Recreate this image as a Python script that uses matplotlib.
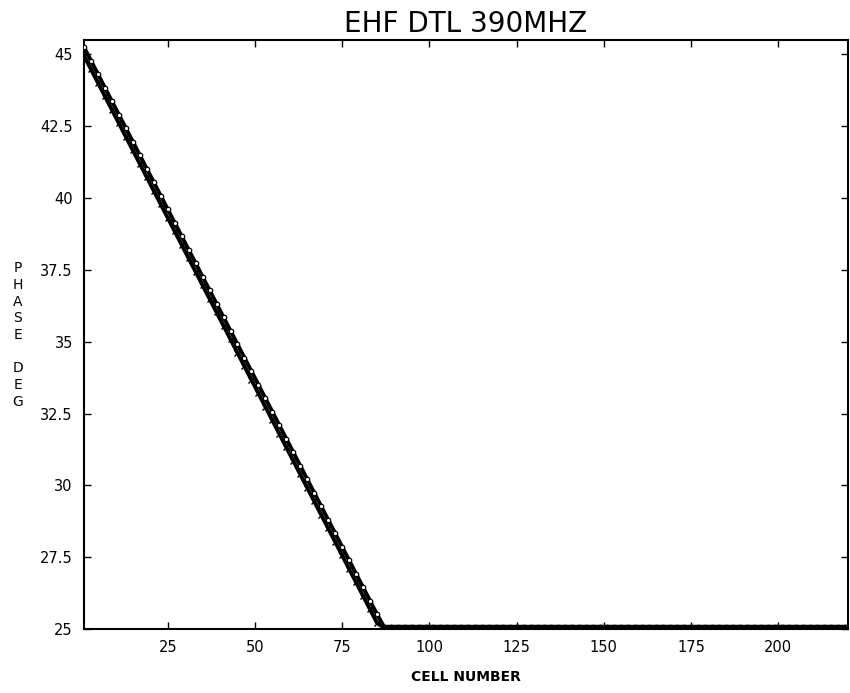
import numpy as np
import matplotlib
matplotlib.use("Agg")
import matplotlib.pyplot as plt

# Cell numbers (every other cell sampled)
cells = np.arange(1, 220, 2)

# Ramp part (cells 1..85)
phase_o_ramp = [45.25, 44.78, 44.31, 43.84, 43.37, 42.90, 42.43, 41.96, 41.49, 41.02,
                40.55, 40.08, 39.61, 39.14, 38.67, 38.20, 37.73, 37.26, 36.79, 36.32,
                35.85, 35.38, 34.91, 34.44, 33.97, 33.50, 33.03, 32.56, 32.09, 31.62,
                31.15, 30.68, 30.21, 29.74, 29.27, 28.80, 28.33, 27.86, 27.39, 26.92,
                26.45, 25.98, 25.51]
phase_x_ramp = [44.95, 44.48, 44.01, 43.54, 43.07, 42.60, 42.13, 41.66, 41.19, 40.72,
                40.25, 39.78, 39.31, 38.84, 38.37, 37.90, 37.43, 36.96, 36.49, 36.02,
                35.55, 35.08, 34.61, 34.14, 33.67, 33.20, 32.73, 32.26, 31.79, 31.32,
                30.85, 30.38, 29.91, 29.44, 28.97, 28.50, 28.03, 27.56, 27.09, 26.62,
                26.15, 25.68, 25.21]
# Flat part (cells 87..219)
phase_flat_o = [25.08, 25.08, 25.08, 25.08, 25.08, 25.08, 25.08, 25.08, 25.08, 25.08,
                25.08, 25.08, 25.08, 25.08, 25.08, 25.08, 25.08, 25.08, 25.08, 25.08,
                25.08, 25.08, 25.08, 25.08, 25.08, 25.08, 25.08, 25.08, 25.08, 25.08,
                25.08, 25.08, 25.08, 25.08, 25.08, 25.08, 25.08, 25.08, 25.08, 25.08,
                25.08, 25.08, 25.08, 25.08, 25.08, 25.08, 25.08, 25.08, 25.08, 25.08,
                25.08, 25.08, 25.08, 25.08, 25.08, 25.08, 25.08, 25.08, 25.08, 25.08,
                25.08, 25.08, 25.08, 25.08, 25.08, 25.08, 25.08]
phase_flat_x = [25.04, 25.04, 25.04, 25.04, 25.04, 25.04, 25.04, 25.04, 25.04, 25.04,
                25.04, 25.04, 25.04, 25.04, 25.04, 25.04, 25.04, 25.04, 25.04, 25.04,
                25.04, 25.04, 25.04, 25.04, 25.04, 25.04, 25.04, 25.04, 25.04, 25.04,
                25.04, 25.04, 25.04, 25.04, 25.04, 25.04, 25.04, 25.04, 25.04, 25.04,
                25.04, 25.04, 25.04, 25.04, 25.04, 25.04, 25.04, 25.04, 25.04, 25.04,
                25.04, 25.04, 25.04, 25.04, 25.04, 25.04, 25.04, 25.04, 25.04, 25.04,
                25.04, 25.04, 25.04, 25.04, 25.04, 25.04, 25.04]

phase_o = phase_o_ramp + phase_flat_o
phase_x = phase_x_ramp + phase_flat_x

xticks = [25, 50, 75, 100, 125, 150, 175, 200]
xticklabels = ["25", "50", "75", "100", "125", "150", "175", "200"]
yticks = [25, 27.5, 30, 32.5, 35, 37.5, 40, 42.5, 45]
yticklabels = ["25", "27.5", "30", "32.5", "35", "37.5", "40", "42.5", "45"]

plt.rcParams['font.family'] = ['DejaVu Sans']

fig = plt.figure(figsize=(8.5, 6.93), dpi=100)
ax = fig.add_axes([84/850, 64/693, (848-84)/850, (629-40)/693])

ax.plot(cells, phase_o, color='black', lw=2.8, marker='o', ms=3.2,
        mfc='white', mec='black', mew=0.9, zorder=3)
ax.plot(cells, phase_x, color='black', lw=2.8, marker='x', ms=4.0,
        mec='black', mew=1.0, zorder=4)

ax.set_xlim(1, 220)
ax.set_ylim(25, 45.5)
ax.set_xticks(xticks)
ax.set_xticklabels(xticklabels, fontsize=10.5)
ax.set_yticks(yticks)
ax.set_yticklabels(yticklabels, fontsize=10.5)
ax.tick_params(direction='in', length=5, width=1.0, top=True, right=True,
               pad=8, colors='black')
for s in ax.spines.values():
    s.set_linewidth(1.5)

ax.set_title("EHF DTL 390MHZ", fontsize=20, pad=6)
fig.text(466/850, 1 - 677/693, "CELL NUMBER", ha='center', va='center',
         fontsize=10, fontweight='bold')
fig.text(18/850, 1 - 335/693, "P\nH\nA\nS\nE\n\nD\nE\nG", ha='center',
         va='center', fontsize=10, linespacing=1.25)

fig.savefig("out.png", dpi=100)
